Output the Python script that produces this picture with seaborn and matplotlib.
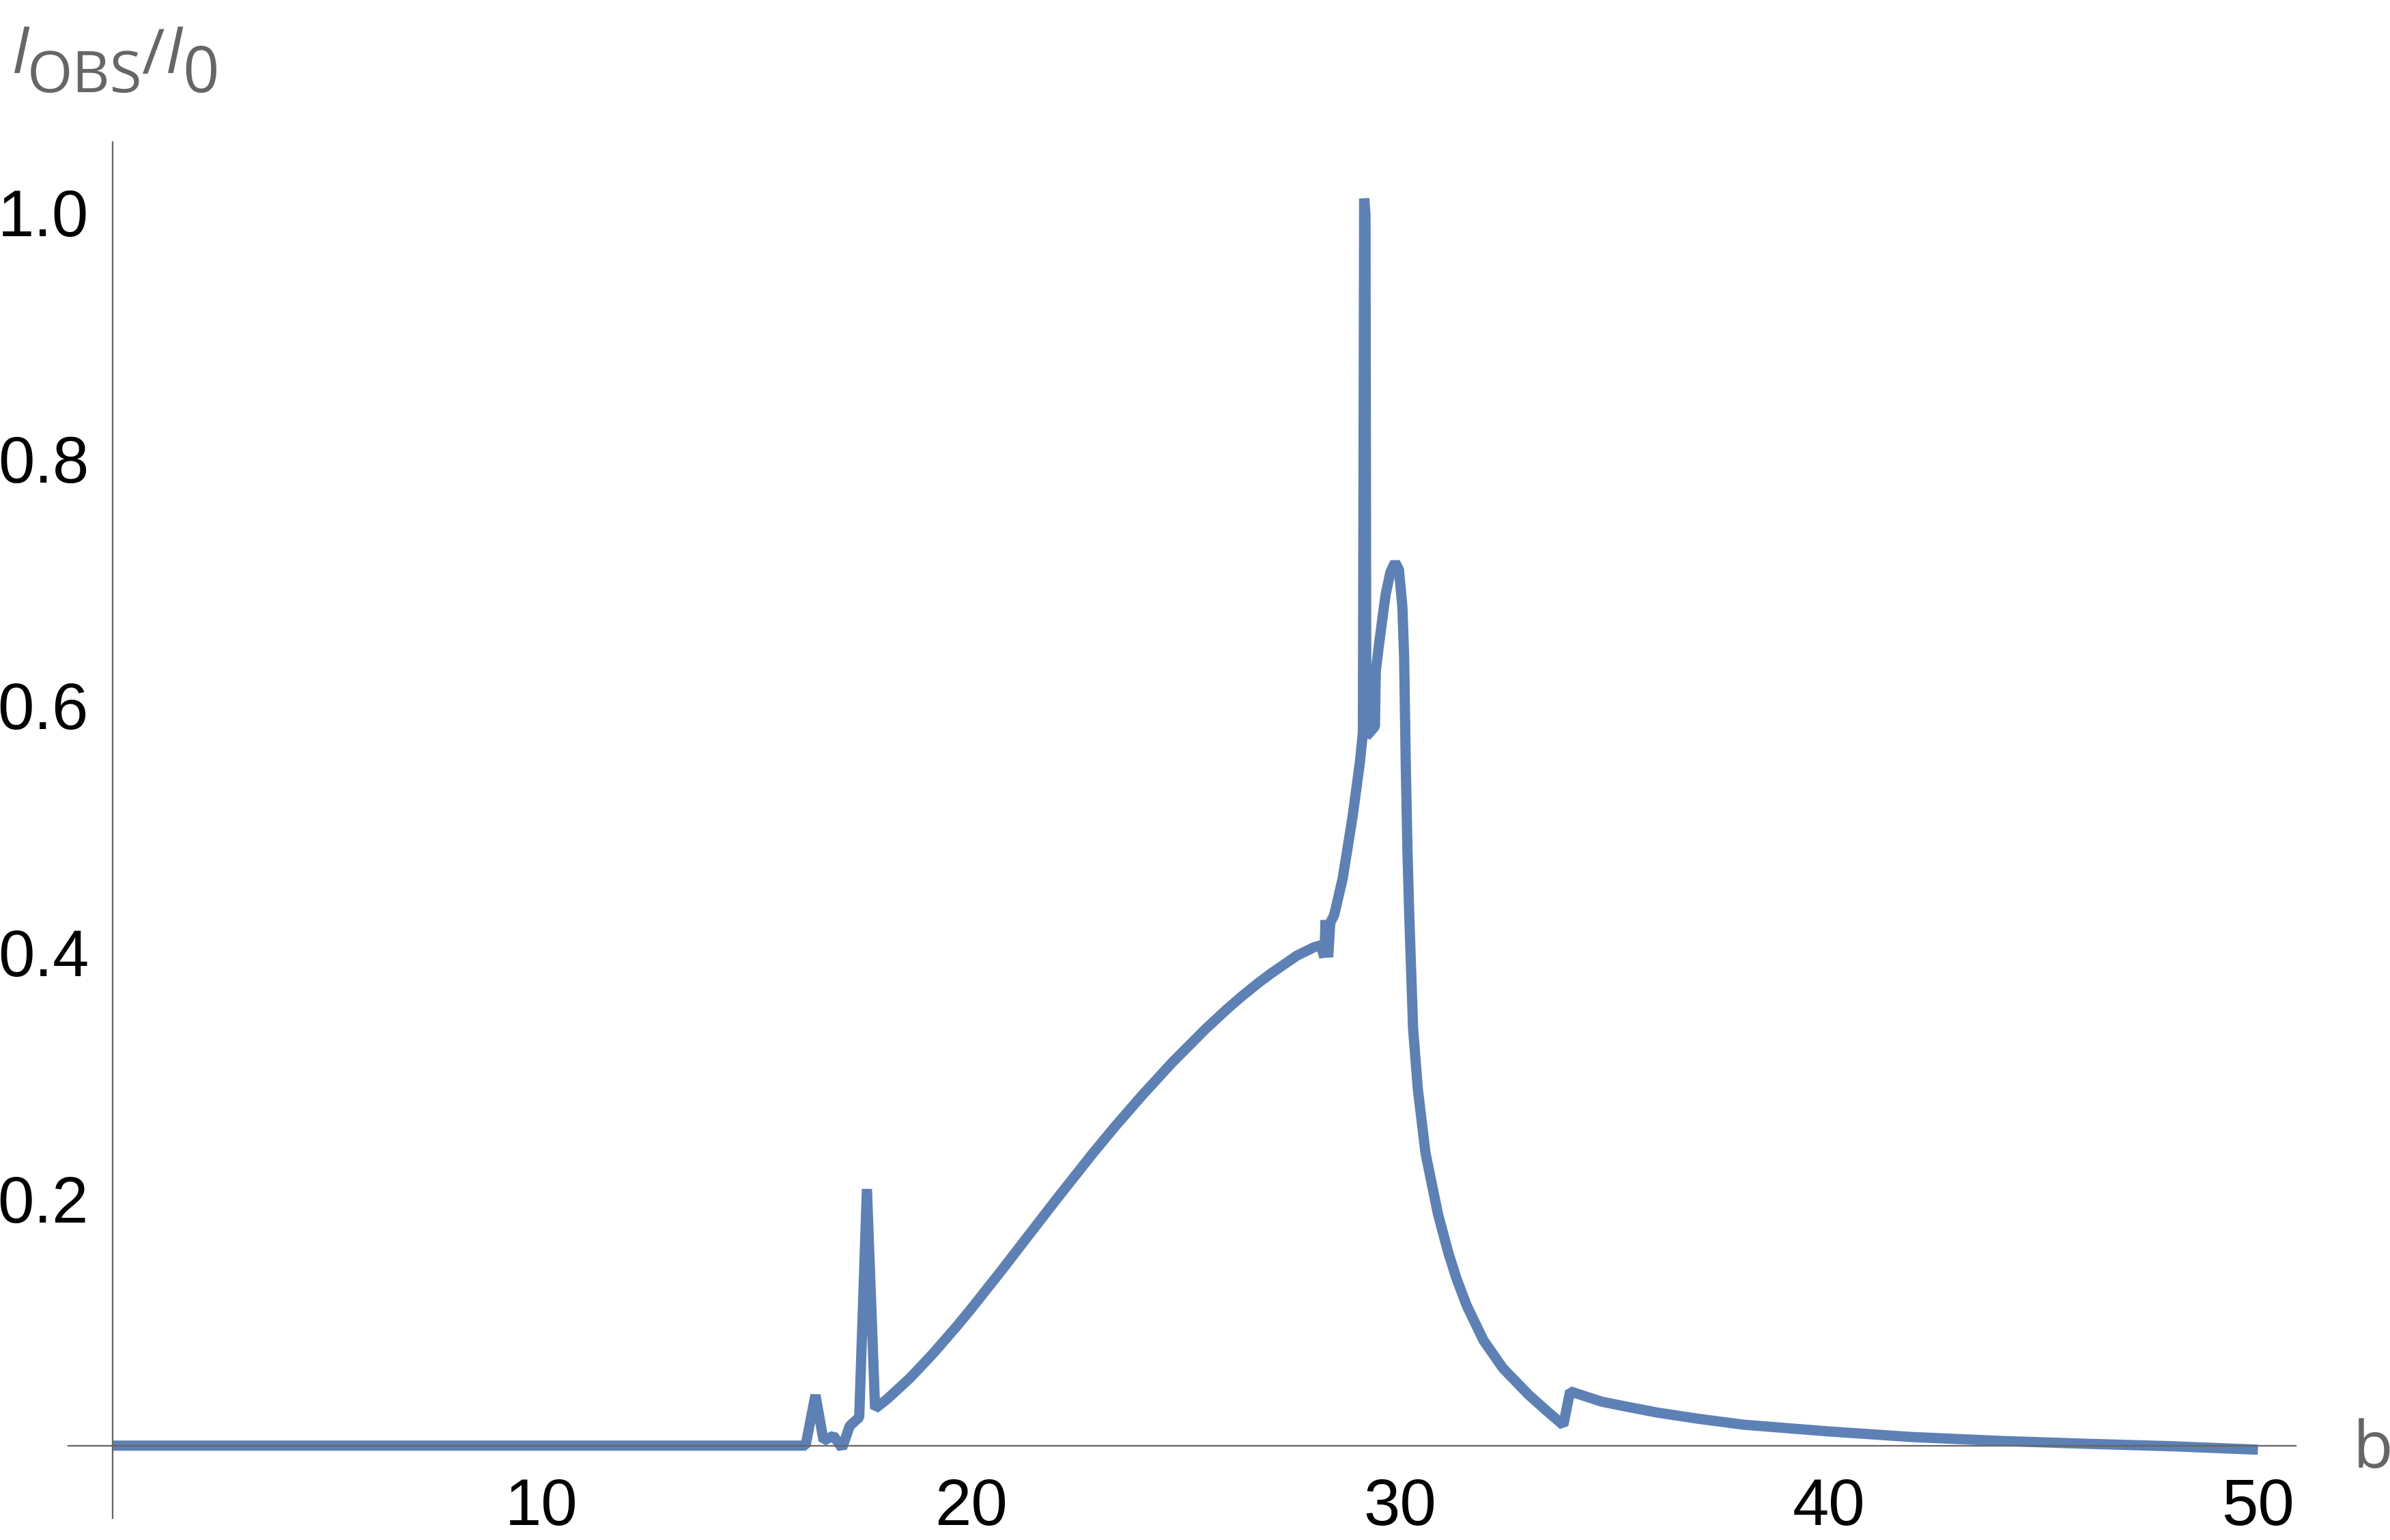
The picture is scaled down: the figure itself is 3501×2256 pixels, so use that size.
import numpy as np
import pandas as pd
import matplotlib
matplotlib.use("Agg")
import matplotlib.pyplot as plt
import seaborn as sns
from matplotlib.ticker import FixedLocator, MultipleLocator

# ---------------- data ----------------
b_values = [0.00, 16.15, 16.38, 16.57, 16.80, 17.00, 17.18, 17.40, 17.58, 17.77,
            18.06, 18.59, 19.12, 19.65, 20.00, 20.71, 21.24, 22.00, 22.83, 23.36,
            23.99, 24.69, 25.48, 26.00, 26.33, 26.70, 27.00, 27.60, 28.00, 28.16,
            28.24, 28.27, 28.33, 28.38, 28.47, 28.67, 28.90, 29.07, 29.14, 29.17,
            29.20, 29.22, 29.42, 29.44, 29.51, 29.60, 29.67, 29.78, 29.89, 29.98,
            30.06, 30.10, 30.14, 30.18, 30.22, 30.31, 30.42, 30.60, 30.89, 31.13,
            31.32, 31.56, 31.95, 32.40, 33.00, 33.40, 33.81, 33.97, 34.71, 35.24,
            36.00, 36.95, 38.00, 40.00, 41.93, 44.00, 46.00, 48.00, 50.00]
intensity_ratio = [0.0, 0.0, 0.041, 0.004, 0.008, -0.002, 0.016, 0.023, 0.208, 0.030,
                   0.038, 0.055, 0.0746, 0.0958, 0.1105, 0.1417, 0.1656, 0.1998, 0.2363, 0.2586,
                   0.2838, 0.3104, 0.3380, 0.3547, 0.3646, 0.3750, 0.3828, 0.3972, 0.4040, 0.4056,
                   0.396, 0.426, 0.396, 0.424, 0.430, 0.460, 0.510, 0.554, 0.578, 1.011,
                   0.998, 0.575, 0.583, 0.628, 0.648, 0.672, 0.690, 0.708, 0.716, 0.710,
                   0.680, 0.640, 0.550, 0.480, 0.430, 0.338, 0.289, 0.237, 0.1877, 0.1565,
                   0.1356, 0.1135, 0.0854, 0.0629, 0.0413, 0.0289, 0.0166, 0.044, 0.0356, 0.0319,
                   0.0268, 0.0218, 0.0170, 0.0115, 0.0070, 0.0038, 0.0015, -0.0005, -0.0033]

x_major_ticks = [10, 20, 30, 40, 50]
x_tick_labels = ["10", "20", "30", "40", "50"]
y_major_ticks = [0.2, 0.4, 0.6, 0.8, 1.0]
y_tick_labels = ["0.2", "0.4", "0.6", "0.8", "1.0"]

# ---------------- style ----------------
sns.set_theme(style="white")
plt.rcParams["font.family"] = ["Liberation Sans", "DejaVu Sans"]

W, H, DPI = 3501, 2256, 300
AXIS_GRAY = "#666666"
LINE_BLUE = "#5E81B5"
LINE_W = 3.6  # points -> ~15 px at 300 dpi

fig = plt.figure(figsize=(W / DPI, H / DPI), dpi=DPI, facecolor="white")
left_px, right_px, top_px, bottom_px = 100.3, 3362.8, 208.0, 2224.0
ax = fig.add_axes([left_px / W, (H - bottom_px) / H,
                   (right_px - left_px) / W, (bottom_px - top_px) / H])
ax.set_facecolor("white")

df = pd.DataFrame({"b": b_values, "ratio": intensity_ratio})
sns.lineplot(data=df, x="b", y="ratio", sort=False, estimator=None,
             color=LINE_BLUE, linewidth=LINE_W, ax=ax, legend=False)
for ln in ax.lines:
    ln.set_linewidth(LINE_W)
    ln.set_solid_joinstyle("bevel")
    ln.set_solid_capstyle("butt")
    ln.set_clip_on(False)
    ln.set_zorder(2)

ax.set_xlim(-1.03, 50.88)
ax.set_ylim(-0.0588, 1.0568)
ax.set_xlabel("")
ax.set_ylabel("")
ax.set_axisbelow(False)

for s in ["top", "right"]:
    ax.spines[s].set_visible(False)
ax.spines["left"].set_position(("data", 0))
ax.spines["bottom"].set_position(("data", 0))
for s in ["left", "bottom"]:
    ax.spines[s].set_color(AXIS_GRAY)
    ax.spines[s].set_linewidth(0.55)
    ax.spines[s].set_zorder(3)

ax.xaxis.set_major_locator(FixedLocator(x_major_ticks))
ax.set_xticklabels(x_tick_labels)
ax.xaxis.set_minor_locator(MultipleLocator(2))
ax.yaxis.set_major_locator(FixedLocator(y_major_ticks))
ax.set_yticklabels(y_tick_labels)
ax.yaxis.set_minor_locator(MultipleLocator(0.05))

ax.tick_params(axis="both", which="major", direction="in", length=9.1, width=0.5,
               color=AXIS_GRAY, labelsize=23, labelcolor="black")
ax.tick_params(axis="both", which="minor", direction="in", length=5.3, width=0.5,
               color=AXIS_GRAY)
ax.tick_params(axis="y", which="major", pad=8.4)
ax.tick_params(axis="x", which="major", pad=11)
for lab in ax.get_xticklabels() + ax.get_yticklabels():
    lab.set_fontfamily(["Liberation Sans", "DejaVu Sans"])

# ---------------- axis labels (Mathematica style) ----------------
label_font = ["Open Sans", "DejaVu Sans"]

def put(text, x_px, base_px, size, italic=False):
    fig.text(x_px / W, 1 - base_px / H, text, ha="left", va="baseline",
             fontsize=size, color=AXIS_GRAY, family=label_font,
             style="italic" if italic else "normal")

put("I", 17, 107, 23, italic=True)
put("OBS", 40, 135, 20.5)
put("/", 207, 108, 22)
put("I", 242, 107, 23, italic=True)
put("0", 267, 135, 22.5)

fig.text(3447 / W, 1 - 2150 / H, "b", ha="left", va="baseline",
         fontsize=23, color=AXIS_GRAY, family=label_font)

fig.savefig("out.png", dpi=DPI, facecolor="white")
